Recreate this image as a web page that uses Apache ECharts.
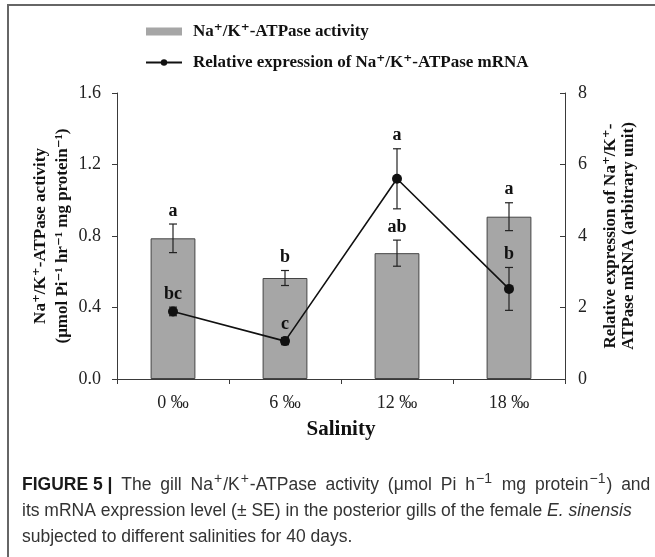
<!DOCTYPE html>
<html>
<head>
<meta charset="utf-8">
<script src="https://cdn.jsdelivr.net/npm/echarts@6/dist/echarts.min.js"></script>
<style>
  html, body { margin: 0; padding: 0; background: #fff; }
  #chart { width: 655px; height: 557px; }
</style>
</head>
<body>
<div id="chart"></div>
<script>
// salinity groups
const categories = ['0 ‰', '6 ‰', '12 ‰', '18 ‰']

// Na+/K+-ATPase activity (left axis)
const activity = [0.787, 0.565, 0.704, 0.908]
const activitySE = [0.080, 0.042, 0.073, 0.078]
const activityLetters = ['a', 'b', 'ab', 'a']

// relative mRNA expression (right axis)
const mrna = [1.89, 1.06, 5.60, 2.52]
const mrnaSE = [0.12, 0.10, 0.84, 0.60]
const mrnaLetters = ['bc', 'c', 'a', 'b']

const leftTicks = [0, 0.4, 0.8, 1.2, 1.6]
const rightTicks = [0, 2, 4, 6, 8]

const serif = '"Liberation Serif", "DejaVu Serif", serif'
const sans = '"Liberation Sans", Arial, sans-serif'
const axisColor = '#3a3a3a'

const chart = echarts.init(document.getElementById('chart'))

// 误差线 + 显著性字母
function errorBarItem(letters) {
  return function (params, api) {
    const i = api.value(0)
    const mean = api.value(1)
    const se = api.value(2)
    const top = api.coord([i, mean + se])
    const bottom = api.coord([i, mean - se])
    const cap = 4
    const style = { stroke: '#222', lineWidth: 1.2 }
    return {
      type: 'group',
      children: [
        { type: 'line', shape: { x1: top[0], y1: top[1], x2: bottom[0], y2: bottom[1] }, style },
        { type: 'line', shape: { x1: top[0] - cap, y1: top[1], x2: top[0] + cap, y2: top[1] }, style },
        { type: 'line', shape: { x1: bottom[0] - cap, y1: bottom[1], x2: bottom[0] + cap, y2: bottom[1] }, style },
        {
          type: 'text',
          x: top[0],
          y: top[1] - 13,
          style: {
            text: letters[params.dataIndex],
            fill: '#111',
            font: 'bold 18px ' + serif,
            align: 'center',
            verticalAlign: 'middle'
          }
        }
      ]
    }
  }
}

// 图注第一行两端对齐：空格用加宽的 token
function spaced(str) {
  return str.split(' ').map(w => w ? '{n|' + w + '}' : '').join('{w| }')
}

const capFont = { fontFamily: sans, fontSize: 17.5, fill: '#333', lineHeight: 26 }

const captionText =
  '{b|FIGURE 5 |}{w| }' + spaced('The gill Na') + '{s|+}{n|/K}{s|+}' +
  spaced('-ATPase activity (μmol Pi h') + '{s|−1}{w| }' + spaced('mg protein') + '{s|−1}' + spaced(') and') + '\n' +
  '{n|its mRNA expression level (± SE) in the posterior gills of the female }{i|E. sinensis}\n' +
  '{n|subjected to different salinities for 40 days.}'

const option = {
  animation: false,
  backgroundColor: '#fff',
  grid: { left: 117, right: 90, top: 93, bottom: 178, containLabel: false },
  legend: {
    orient: 'vertical',
    left: 140,
    top: 18,
    itemWidth: 36,
    itemHeight: 8,
    itemGap: 14,
    textStyle: {
      fontFamily: serif,
      fontWeight: 'bold',
      fontSize: 17,
      lineHeight: 17,
      color: '#111',
      padding: [0, 0, 0, 6]
    },
    data: [
      { name: 'Na⁺/K⁺-ATPase activity', icon: 'rect', itemStyle: { borderWidth: 0, color: '#a6a6a6' } },
      { name: 'Relative expression of Na⁺/K⁺-ATPase mRNA' }
    ]
  },
  xAxis: {
    type: 'category',
    data: categories,
    name: 'Salinity',
    nameLocation: 'middle',
    nameGap: 40,
    nameMoveOverlap: false,
    nameTextStyle: { fontFamily: serif, fontWeight: 'bold', fontSize: 21, color: '#111' },
    axisLine: { lineStyle: { color: axisColor, width: 1 } },
    axisTick: { show: true, length: 5, lineStyle: { color: axisColor } },
    axisLabel: { fontFamily: serif, fontSize: 18, color: '#222', margin: 15 }
  },
  yAxis: [
    {
      type: 'value',
      min: 0,
      max: 1.6,
      interval: 0.4,
      name: 'Na⁺/K⁺-ATPase activity\n(μmol Pi⁻¹ hr⁻¹ mg protein⁻¹)',
      nameLocation: 'middle',
      nameRotate: 90,
      nameGap: 43,
      nameMoveOverlap: false,
      nameTextStyle: { fontFamily: serif, fontWeight: 'bold', fontSize: 17, lineHeight: 22, color: '#111' },
      axisLine: { show: true, lineStyle: { color: axisColor, width: 1 } },
      axisTick: { show: true, length: 5, lineStyle: { color: axisColor } },
      splitLine: { show: false },
      axisLabel: {
        fontFamily: serif, fontSize: 18, color: '#222', margin: 16,
        formatter: v => leftTicks.includes(+v.toFixed(1)) ? v.toFixed(1) : ''
      }
    },
    {
      type: 'value',
      position: 'right',
      min: 0,
      max: 8,
      interval: 2,
      name: 'Relative expression of Na⁺/K⁺-\nATPase mRNA (arbitrary unit)',
      nameLocation: 'middle',
      nameRotate: 90,
      nameGap: 37,
      nameMoveOverlap: false,
      nameTextStyle: { fontFamily: serif, fontWeight: 'bold', fontSize: 17, lineHeight: 18, color: '#111' },
      axisLine: { show: true, lineStyle: { color: axisColor, width: 1 } },
      axisTick: { show: true, inside: true, length: 5, lineStyle: { color: axisColor } },
      splitLine: { show: false },
      axisLabel: {
        fontFamily: serif, fontSize: 18, color: '#222', margin: 13,
        formatter: v => rightTicks.includes(v) ? String(v) : ''
      }
    }
  ],
  series: [
    {
      name: 'Na⁺/K⁺-ATPase activity',
      type: 'bar',
      yAxisIndex: 0,
      barWidth: '40%',
      data: activity,
      itemStyle: { color: '#a6a6a6', borderColor: '#444', borderWidth: 1 },
      z: 2
    },
    {
      type: 'custom',
      yAxisIndex: 0,
      renderItem: errorBarItem(activityLetters),
      data: activity.map((v, i) => [i, v, activitySE[i]]),
      z: 3
    },
    {
      name: 'Relative expression of Na⁺/K⁺-ATPase mRNA',
      type: 'line',
      yAxisIndex: 1,
      data: mrna,
      symbol: 'circle',
      symbolSize: 10,
      lineStyle: { color: '#111', width: 1.6 },
      itemStyle: { color: '#111' },
      z: 5
    },
    {
      type: 'custom',
      yAxisIndex: 1,
      renderItem: errorBarItem(mrnaLetters),
      data: mrna.map((v, i) => [i, v, mrnaSE[i]]),
      z: 4
    }
  ],
  graphic: [
    // 外框
    { type: 'line', shape: { x1: 7, y1: 5, x2: 655, y2: 5 }, style: { stroke: '#666', lineWidth: 2 } },
    { type: 'line', shape: { x1: 8, y1: 5, x2: 8, y2: 557 }, style: { stroke: '#666', lineWidth: 2 } },
    // 图注
    {
      type: 'text',
      left: 22,
      top: 472,
      style: {
        text: captionText,
        font: '17.5px ' + sans,
        fill: '#333',
        lineHeight: 26,
        rich: {
          n: capFont,
          w: Object.assign({}, capFont, { padding: [0, 2, 0, 2] }),
          b: Object.assign({}, capFont, { fontWeight: 'bold', fill: '#1a1a1a' }),
          i: Object.assign({}, capFont, { fontStyle: 'italic' }),
          s: { fontFamily: sans, fontSize: 14, fill: '#333', lineHeight: 14, verticalAlign: 'top', padding: [0, 1, 0, 1] }
        }
      }
    }
  ]
}

chart.setOption(option)
</script>
</body>
</html>
